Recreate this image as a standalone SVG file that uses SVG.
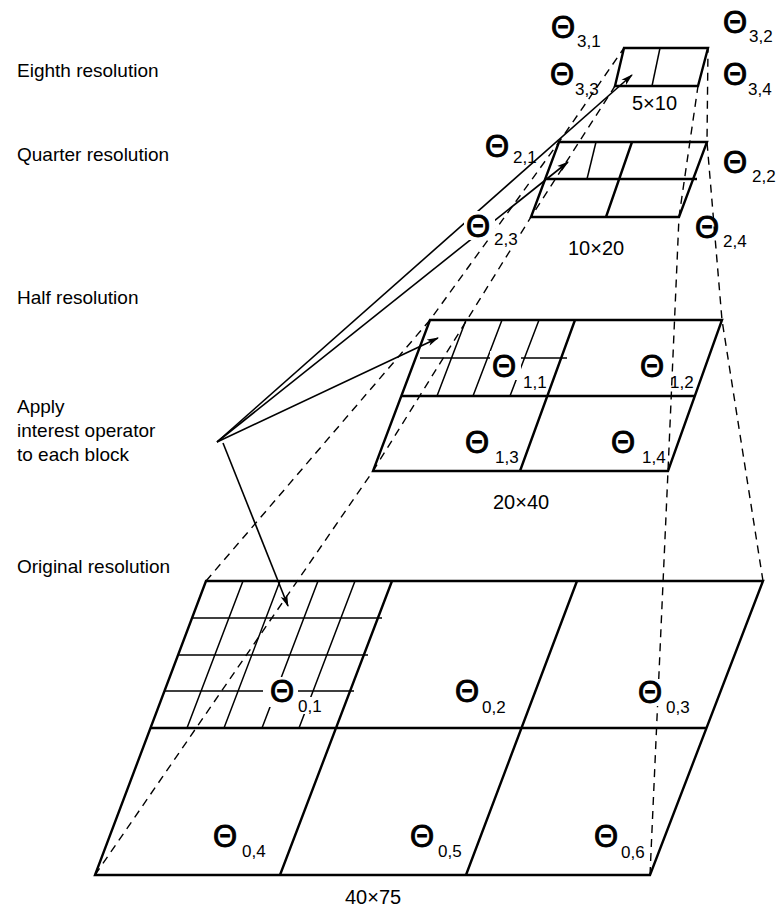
<svg xmlns="http://www.w3.org/2000/svg" width="779" height="915" viewBox="0 0 779 915">
<defs>
<style>
.frame{fill:none;stroke:#000;stroke-width:2.4;stroke-linejoin:miter}
.grid{fill:none;stroke:#000;stroke-width:1.5}
.dash{fill:none;stroke:#000;stroke-width:1.4;stroke-dasharray:8,6}
.arr{fill:none;stroke:#000;stroke-width:1.6}
.lbl{font-family:"Liberation Sans",Arial,sans-serif;font-size:19px;fill:#000}
.th{font-family:"Liberation Sans",Arial,sans-serif;font-size:31px;fill:#000;stroke:#000;stroke-width:0.9}
.sub{font-family:"Liberation Sans",Arial,sans-serif;font-size:17px;fill:#000}
.dim{font-family:"Liberation Sans",Arial,sans-serif;font-size:20px;fill:#000}
.ko{fill:#fff;stroke:none}
</style>
<marker id="ah" viewBox="0 0 12 8" refX="11" refY="4" markerWidth="12" markerHeight="8" markerUnits="userSpaceOnUse" orient="auto">
<path d="M0,0.5 L12,4 L0,7.5 L3,4 z" fill="#000"/>
</marker>
</defs>

<g id="labels-left">
<text class="lbl" x="17" y="77">Eighth resolution</text>
<text class="lbl" x="17" y="161">Quarter resolution</text>
<text class="lbl" x="17" y="304">Half resolution</text>
<text class="lbl" x="17" y="413">Apply</text>
<text class="lbl" x="17" y="437">interest operator</text>
<text class="lbl" x="17" y="461">to each block</text>
<text class="lbl" x="17" y="573">Original resolution</text>
</g>

<g id="level-original">
<path class="frame" d="M206,581 L763,581 L650,875 L95,875 Z"/>
<path class="frame" d="M150.4,728 L706.5,728 M392,581 L280,875 M577,581 L466,875"/>
<path class="grid" d="M192,618 L382,618 M178,655 L368,655 M164,691 L354,691 M243,581 L187,728 M280,581 L224,728 M318,581 L262,728 M355,581 L299,728"/>
</g>

<g id="level-half">
<path class="frame" d="M430,320 L722,320 L668,471 L373,471 Z"/>
<path class="frame" d="M401.3,396 L694.8,396 M575,320 L520,471"/>
<path class="grid" d="M420,358 L567,358 M466,320 L437,396 M502,320 L473,396 M539,320 L510,396"/>
</g>

<g id="level-quarter">
<path class="frame" d="M559,142 L707,142 L679,217 L531,217 Z"/>
<path class="frame" d="M547,179 L697,179 M632,142 L606,217"/>
<path class="grid" d="M596,142 L587,179"/>
</g>

<g id="level-eighth">
<path class="frame" d="M624,48 L708,48 L698,86 L615,86 Z"/>
<path class="grid" d="M660,48 L652,86"/>
</g>

<g id="connectors">
<polyline class="dash" points="206,581 430,320 559,142 624,48"/>
<polyline class="dash" points="95,875 373,471 531,217 615,86"/>
<polyline class="dash" points="763,581 722,320 707,142 708,48"/>
<polyline class="dash" points="650,875 668,471 679,217 698,86"/>
<line class="arr" x1="217" y1="442" x2="632" y2="75" marker-end="url(#ah)"/>
<line class="arr" x1="217" y1="442" x2="568" y2="162" marker-end="url(#ah)"/>
<line class="arr" x1="217" y1="442" x2="438" y2="338" marker-end="url(#ah)"/>
<line class="arr" x1="223" y1="443" x2="288" y2="606" marker-end="url(#ah)"/>
</g>

<g id="knockouts">
<rect class="ko" x="263" y="677" width="35" height="30"/>
<rect class="ko" x="297" y="697" width="27" height="17"/>
<rect class="ko" x="490" y="351" width="31" height="29"/>
<rect class="ko" x="520" y="373" width="27" height="17"/>
<rect class="ko" x="464" y="211" width="31" height="29"/>
<rect class="ko" x="493" y="229" width="27" height="18"/>
<rect class="ko" x="637" y="679" width="29" height="27"/>
</g>

<g id="theta-labels">
<text x="551" y="38"><tspan class="th">Θ</tspan><tspan class="sub" x="577" y="47">3,1</tspan></text>
<text x="723" y="33"><tspan class="th">Θ</tspan><tspan class="sub" x="749" y="42">3,2</tspan></text>
<text x="550" y="85"><tspan class="th">Θ</tspan><tspan class="sub" x="575" y="95">3,3</tspan></text>
<text x="723" y="85"><tspan class="th">Θ</tspan><tspan class="sub" x="748" y="95">3,4</tspan></text>
<text x="485" y="157"><tspan class="th">Θ</tspan><tspan class="sub" x="513" y="163">2,1</tspan></text>
<text x="723" y="173"><tspan class="th">Θ</tspan><tspan class="sub" x="752" y="182">2,2</tspan></text>
<text x="466" y="237"><tspan class="th">Θ</tspan><tspan class="sub" x="494" y="245">2,3</tspan></text>
<text x="695" y="238"><tspan class="th">Θ</tspan><tspan class="sub" x="723" y="247">2,4</tspan></text>
<text x="492" y="377"><tspan class="th">Θ</tspan><tspan class="sub" x="523" y="388">1,1</tspan></text>
<text x="640" y="377"><tspan class="th">Θ</tspan><tspan class="sub" x="670" y="388">1,2</tspan></text>
<text x="465" y="453"><tspan class="th">Θ</tspan><tspan class="sub" x="495" y="463">1,3</tspan></text>
<text x="611" y="453"><tspan class="th">Θ</tspan><tspan class="sub" x="642" y="463">1,4</tspan></text>
<text x="270" y="702"><tspan class="th">Θ</tspan><tspan class="sub" x="298" y="712">0,1</tspan></text>
<text x="455" y="702"><tspan class="th">Θ</tspan><tspan class="sub" x="482" y="713">0,2</tspan></text>
<text x="638" y="703"><tspan class="th">Θ</tspan><tspan class="sub" x="666" y="713">0,3</tspan></text>
<text x="213" y="847"><tspan class="th">Θ</tspan><tspan class="sub" x="242" y="857">0,4</tspan></text>
<text x="410" y="847"><tspan class="th">Θ</tspan><tspan class="sub" x="438" y="857">0,5</tspan></text>
<text x="594" y="847"><tspan class="th">Θ</tspan><tspan class="sub" x="621" y="858">0,6</tspan></text>
</g>

<g id="dimension-labels">
<text class="dim" x="632" y="110">5×10</text>
<text class="dim" x="568" y="255">10×20</text>
<text class="dim" x="493" y="509">20×40</text>
<text class="dim" x="345" y="904">40×75</text>
</g>
</svg>
